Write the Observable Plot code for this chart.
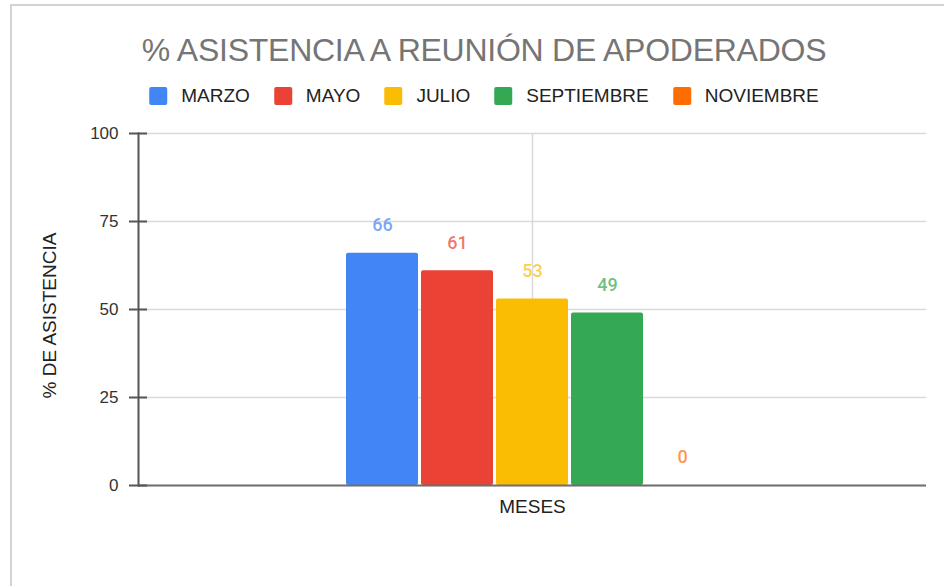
<!DOCTYPE html>
<html>
<head>
<meta charset="utf-8">
<script src="https://cdn.jsdelivr.net/npm/d3@7"></script>
<script src="https://cdn.jsdelivr.net/npm/@observablehq/plot@0.6"></script>
<style>
  body { margin: 0; background: #fff; }
  #wrap { position: relative; width: 944px; height: 586px; overflow: hidden; font-family: "Liberation Sans", Arial, sans-serif; }
  #frame { position: absolute; left: 10px; top: 4px; right: -10px; bottom: -10px; border-left: 2px solid #d3d3d3; border-top: 2px solid #d3d3d3; }
  #title { position: absolute; left: 484px; top: 34px; transform: translateX(-50%); white-space: nowrap; font-size: 32px; line-height: 32px; color: #757575; letter-spacing: -0.25px; }
  #legend { position: absolute; left: 484px; top: 86px; transform: translateX(-50%); display: flex; white-space: nowrap; font-size: 19px; line-height: 19px; color: #222; }
  .item { display: flex; align-items: center; margin-right: 24px; }
  .item:last-child { margin-right: 0; }
  .sw { width: 18px; height: 18px; border-radius: 2px; margin-right: 14px; }
  #chart { position: absolute; left: 0; top: 118px; }
</style>
</head>
<body>
<div id="wrap">
  <div id="frame"></div>
  <div id="title">% ASISTENCIA A REUNIÓN DE APODERADOS</div>
  <div id="legend"></div>
  <div id="chart"></div>
</div>
<script>
const meses = ["MARZO", "MAYO", "JULIO", "SEPTIEMBRE", "NOVIEMBRE"];
const valores = [66, 61, 53, 49, 0];
const colores = ["#4285F4", "#EA4335", "#FBBC04", "#34A853", "#FF6D01"];
const grupo = "MESES";
const yTicks = [0, 25, 50, 75, 100];
const yLabel = "% DE ASISTENCIA";

const data = meses.map((m, i) => ({ mes: m, valor: valores[i], grupo }));

const legend = document.getElementById("legend");
meses.forEach((m, i) => {
  const it = document.createElement("div");
  it.className = "item";
  const sw = document.createElement("div");
  sw.className = "sw";
  sw.style.background = colores[i];
  const tx = document.createElement("span");
  tx.textContent = m;
  it.appendChild(sw);
  it.appendChild(tx);
  legend.appendChild(it);
});

const chart = Plot.plot({
  width: 944,
  height: 468,
  marginTop: 15,
  marginBottom: 101,
  marginLeft: 138,
  marginRight: 18,
  style: { fontFamily: "Liberation Sans, Arial, sans-serif", fontSize: "17px", color: "#444", background: "transparent" },
  fx: { domain: [grupo], padding: 0, label: null },
  x: { domain: meses, paddingInner: 0.044, paddingOuter: 2.754, axis: null },
  y: { domain: [0, 100] },
  color: { domain: meses, range: colores },
  marks: [
    Plot.gridY(yTicks, { stroke: "#d9d9d9", strokeOpacity: 1, strokeWidth: 1.5 }),
    Plot.gridFx({ stroke: "#d9d9d9", strokeOpacity: 1, strokeWidth: 1.5 }),
    Plot.barY(data, { fx: "grupo", x: "mes", y: "valor", fill: "mes", rx: 2 }),
    Plot.text(data, { fx: "grupo", x: "mes", y: "valor", text: d => String(d.valor), fill: "mes", fillOpacity: 0.72, dy: -28, fontFamily: "Roboto", fontWeight: 500, fontSize: 18 }),
    Plot.ruleY([0], { stroke: "#6e6e6e", strokeWidth: 2 }),
    Plot.frame({ anchor: "left", stroke: "#555", strokeWidth: 2 }),
    Plot.axisY(yTicks, { tickSize: 0, tickPadding: 20, label: null, fontSize: 17, fill: "#333" }),
    Plot.axisY(yTicks, { tickSize: 18, dx: 9, tickFormat: () => "", label: null, stroke: "#555", strokeWidth: 2 }),
    Plot.text([yLabel], { text: d => d, frameAnchor: "left", textAnchor: "middle", rotate: -90, dx: -89, dy: 6, fontSize: 19, fill: "#222" }),
    Plot.axisFx({ anchor: "bottom", tickSize: 0, tickPadding: 14, label: null, fontSize: 19, fill: "#222" })
  ]
});
document.getElementById("chart").appendChild(chart);
</script>
</body>
</html>
